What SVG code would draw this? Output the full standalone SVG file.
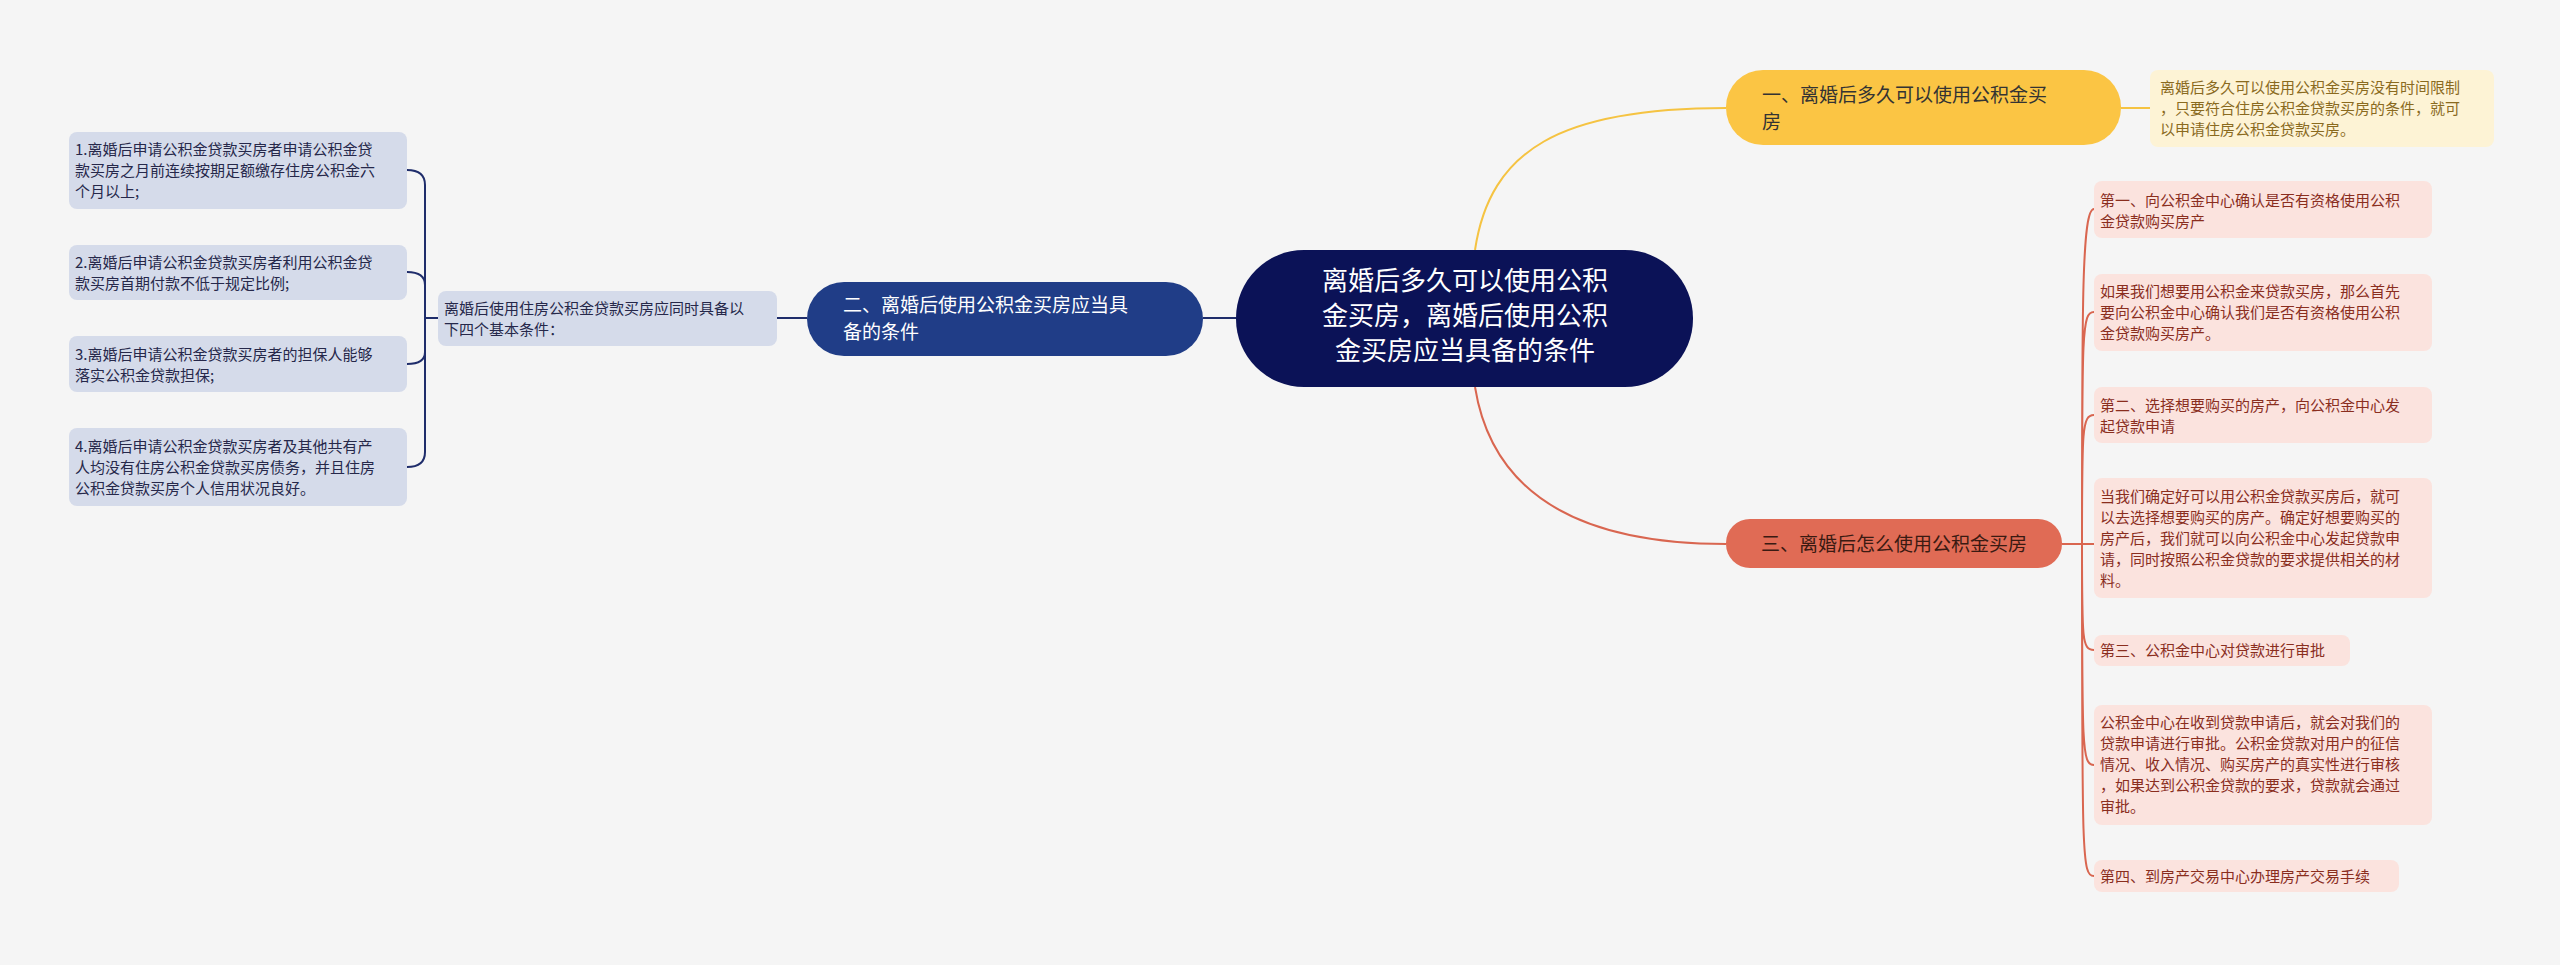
<svg xmlns="http://www.w3.org/2000/svg" width="2560" height="965" viewBox="0 0 2560 965">
<style>
text{font-family:"Noto Sans CJK SC","Liberation Sans",sans-serif}
.s{font-size:15px}
.m{font-size:19px}
.rl{fill:#fbe3de}
.rt{fill:#8a2e1e}
.bl{fill:#d5dbea}
.bt{fill:#26284a}
.c{fill:none;stroke-width:2}
</style>
<rect width="2560" height="965" fill="#f5f5f5"/>
<g id="connectors">
<path class="c" stroke="#f5c342" d="M1475,250 C1490,150 1560,108 1726,108 M2121,108 L2150,108"/>
<path class="c" stroke="#d96650" d="M1475,387 C1490,480 1560,544 1726,544 M2062,544 L2082,544"/>
<path class="c" stroke="#d96650" d="M2082,544 C2082,300 2082,209 2094,209 M2082,544 C2082,330 2082,312 2094,312 M2082,544 C2082,430 2082,415 2094,415 M2082,544 L2094,544 M2082,544 C2082,640 2082,650 2094,650 M2082,544 C2082,750 2082,765 2094,765 M2082,544 C2082,860 2082,876 2094,876"/>
<path class="c" stroke="#1f2d6b" d="M1236,318 L1203,318 M807,318 L777,318 M438,318 L425,318 M407,170 Q425,170 425,185 L425,452 Q425,467 407,467 M407,272 Q425,272 425,285 M407,364 Q425,364 425,352"/>
</g>
<g id="center">
<rect x="1236" y="250" width="457" height="137" rx="68" fill="#0b1257"/>
<text x="1465" y="290" font-size="26" fill="#fff" text-anchor="middle">离婚后多久可以使用公积</text>
<text x="1465" y="325" font-size="26" fill="#fff" text-anchor="middle">金买房，离婚后使用公积</text>
<text x="1465" y="360" font-size="26" fill="#fff" text-anchor="middle">金买房应当具备的条件</text>
</g>
<g id="n1">
<rect x="1726" y="70" width="395" height="75" rx="37" fill="#fbc544"/>
<text class="m" x="1762" y="102" fill="#333">一、离婚后多久可以使用公积金买</text>
<text class="m" x="1762" y="129" fill="#333">房</text>
</g>
<g id="n1a">
<rect x="2150" y="70" width="344" height="77" rx="8" fill="#fdf3d5"/>
<text class="s" x="2160" y="93" fill="#8a6a1e">离婚后多久可以使用公积金买房没有时间限制</text>
<text class="s" x="2160" y="114" fill="#8a6a1e">，只要符合住房公积金贷款买房的条件，就可</text>
<text class="s" x="2160" y="135" fill="#8a6a1e">以申请住房公积金贷款买房。</text>
</g>
<g id="n3">
<rect x="1726" y="519" width="336" height="49" rx="24" fill="#e06b55"/>
<text class="m" x="1894" y="551" fill="#3a1a12" text-anchor="middle">三、离婚后怎么使用公积金买房</text>
</g>
<g id="r1"><rect class="rl" x="2094" y="181" width="338" height="57" rx="8"/>
<text class="s rt" x="2100" y="206">第一、向公积金中心确认是否有资格使用公积</text>
<text class="s rt" x="2100" y="227">金贷款购买房产</text></g>
<g id="r2"><rect class="rl" x="2094" y="274" width="338" height="77" rx="8"/>
<text class="s rt" x="2100" y="297">如果我们想要用公积金来贷款买房，那么首先</text>
<text class="s rt" x="2100" y="318">要向公积金中心确认我们是否有资格使用公积</text>
<text class="s rt" x="2100" y="339">金贷款购买房产。</text></g>
<g id="r3"><rect class="rl" x="2094" y="387" width="338" height="56" rx="8"/>
<text class="s rt" x="2100" y="411">第二、选择想要购买的房产，向公积金中心发</text>
<text class="s rt" x="2100" y="432">起贷款申请</text></g>
<g id="r4"><rect class="rl" x="2094" y="478" width="338" height="120" rx="8"/>
<text class="s rt" x="2100" y="502">当我们确定好可以用公积金贷款买房后，就可</text>
<text class="s rt" x="2100" y="523">以去选择想要购买的房产。确定好想要购买的</text>
<text class="s rt" x="2100" y="544">房产后，我们就可以向公积金中心发起贷款申</text>
<text class="s rt" x="2100" y="565">请，同时按照公积金贷款的要求提供相关的材</text>
<text class="s rt" x="2100" y="586">料。</text></g>
<g id="r5"><rect class="rl" x="2094" y="635" width="256" height="31" rx="8"/>
<text class="s rt" x="2100" y="656">第三、公积金中心对贷款进行审批</text></g>
<g id="r6"><rect class="rl" x="2094" y="705" width="338" height="120" rx="8"/>
<text class="s rt" x="2100" y="728">公积金中心在收到贷款申请后，就会对我们的</text>
<text class="s rt" x="2100" y="749">贷款申请进行审批。公积金贷款对用户的征信</text>
<text class="s rt" x="2100" y="770">情况、收入情况、购买房产的真实性进行审核</text>
<text class="s rt" x="2100" y="791">，如果达到公积金贷款的要求，贷款就会通过</text>
<text class="s rt" x="2100" y="812">审批。</text></g>
<g id="r7"><rect class="rl" x="2094" y="860" width="305" height="32" rx="8"/>
<text class="s rt" x="2100" y="882">第四、到房产交易中心办理房产交易手续</text></g>
<g id="n2">
<rect x="807" y="282" width="396" height="74" rx="37" fill="#203d87"/>
<text class="m" x="843" y="312" fill="#fff">二、离婚后使用公积金买房应当具</text>
<text class="m" x="843" y="339" fill="#fff">备的条件</text>
</g>
<g id="mid"><rect class="bl" x="438" y="291" width="339" height="55" rx="8"/>
<text class="s bt" x="444" y="314">离婚后使用住房公积金贷款买房应同时具备以</text>
<text class="s bt" x="444" y="335">下四个基本条件：</text></g>
<g id="l1"><rect class="bl" x="69" y="132" width="338" height="77" rx="8"/>
<text class="s bt" x="75" y="155">1.离婚后申请公积金贷款买房者申请公积金贷</text>
<text class="s bt" x="75" y="176">款买房之月前连续按期足额缴存住房公积金六</text>
<text class="s bt" x="75" y="197">个月以上;</text></g>
<g id="l2"><rect class="bl" x="69" y="245" width="338" height="55" rx="8"/>
<text class="s bt" x="75" y="268">2.离婚后申请公积金贷款买房者利用公积金贷</text>
<text class="s bt" x="75" y="289">款买房首期付款不低于规定比例;</text></g>
<g id="l3"><rect class="bl" x="69" y="336" width="338" height="56" rx="8"/>
<text class="s bt" x="75" y="360">3.离婚后申请公积金贷款买房者的担保人能够</text>
<text class="s bt" x="75" y="381">落实公积金贷款担保;</text></g>
<g id="l4"><rect class="bl" x="69" y="428" width="338" height="78" rx="8"/>
<text class="s bt" x="75" y="452">4.离婚后申请公积金贷款买房者及其他共有产</text>
<text class="s bt" x="75" y="473">人均没有住房公积金贷款买房债务，并且住房</text>
<text class="s bt" x="75" y="494">公积金贷款买房个人信用状况良好。</text></g>
</svg>
